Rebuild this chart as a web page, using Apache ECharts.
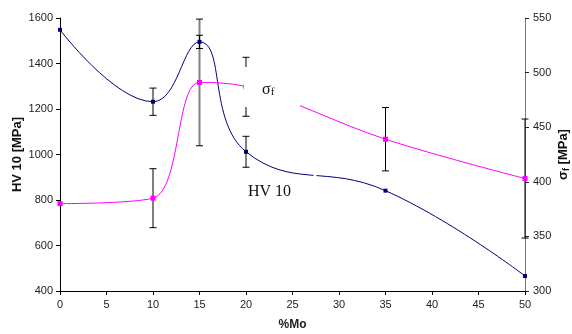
<!DOCTYPE html>
<html>
<head>
<meta charset="utf-8">
<script src="https://cdn.jsdelivr.net/npm/echarts@6/dist/echarts.min.js"></script>
<style>html,body{margin:0;padding:0;background:#fff}#c{width:572px;height:334px}</style>
</head>
<body>
<div id="c"></div>
<script>
// Data
const moPct = [0, 10, 15, 20, 35, 50];
const hv10 = [1548, 1232, 1495, 1012, 841, 466];
const sigmaF = [380, 385, 491, 487, 439, 403];
// error bars: [x, value, half-range]
const hvErrX = [10, 15, 20];
const hvErr = [60, 29, 68];
const sfErrX = [10, 15, 20, 35, 50];
const sfErr = [27, 58, 27, 29, 54.5];
const xTicks = {min: 0, max: 50, step: 5};
const leftTicks = {min: 400, max: 1600, step: 200};
const rightTicks = {min: 300, max: 550, step: 50};

const hvData = moPct.map((x, i) => [x, hv10[i]]);
const sfData = moPct.map((x, i) => [x, sigmaF[i]]);
const hvErrData = hvErrX.map((x, i) => [x, hv10[moPct.indexOf(x)] - hvErr[i], hv10[moPct.indexOf(x)] + hvErr[i]]);
const sfErrData = sfErrX.map((x, i) => [x, sigmaF[moPct.indexOf(x)] - sfErr[i], sigmaF[moPct.indexOf(x)] + sfErr[i]]);

function errRender(color, widthFn) {
  return function (params, api) {
    const x = api.value(0);
    const lo = api.coord([x, api.value(1)]);
    const hi = api.coord([x, api.value(2)]);
    const w = 3.5;
    const lw = widthFn(x);
    return {
      type: 'group',
      children: [
        {type: 'line', shape: {x1: lo[0], y1: lo[1], x2: hi[0], y2: hi[1]}, style: {stroke: lw > 1 ? '#808080' : color, lineWidth: lw}},
        {type: 'line', shape: {x1: lo[0] - w, y1: lo[1], x2: lo[0] + w, y2: lo[1]}, style: {stroke: color, lineWidth: 1}},
        {type: 'line', shape: {x1: hi[0] - w, y1: hi[1], x2: hi[0] + w, y2: hi[1]}, style: {stroke: color, lineWidth: 1}}
      ]
    };
  };
}

const chart = echarts.init(document.getElementById('c'), null, {renderer: 'canvas'});
const axisFont = {fontFamily: 'Liberation Sans, Arial, sans-serif', fontSize: 11, color: '#222', formatter: v => String(v)};
chart.setOption({
  animation: false,
  backgroundColor: '#fff',
  grid: {left: 60, right: 47, top: 18, bottom: 43, containLabel: false, outerBoundsMode: 'none'},
  xAxis: {
    type: 'value', min: xTicks.min, max: xTicks.max, interval: xTicks.step,
    name: '%Mo', nameLocation: 'middle', nameGap: 28, nameMoveOverlap: false,
    nameTextStyle: {fontFamily: 'Liberation Sans, Arial, sans-serif', fontSize: 12, fontWeight: 'bold', color: '#222'},
    axisLine: {lineStyle: {color: '#000', width: 1}},
    axisTick: {inside: false, length: 4, lineStyle: {color: '#000'}},
    axisLabel: Object.assign({margin: 8}, axisFont),
    splitLine: {show: false}
  },
  yAxis: [{
    type: 'value', min: leftTicks.min, max: leftTicks.max, interval: leftTicks.step, position: 'left',
    name: 'HV 10 [MPa]', nameLocation: 'middle', nameGap: 36, nameRotate: 90, nameMoveOverlap: false,
    nameTextStyle: {fontFamily: 'Liberation Sans, Arial, sans-serif', fontSize: 13, fontWeight: 'bold', color: '#111'},
    axisLine: {show: true, lineStyle: {color: '#000'}},
    axisTick: {show: true, length: 4, lineStyle: {color: '#000'}},
    axisLabel: Object.assign({margin: 7}, axisFont),
    splitLine: {show: false}
  }, {
    type: 'value', min: rightTicks.min, max: rightTicks.max, interval: rightTicks.step, position: 'right',
    name: 'σ{sub|f} [MPa]', nameLocation: 'middle', nameGap: 31, nameRotate: 90, nameMoveOverlap: false,
    nameTextStyle: {fontFamily: 'Liberation Sans, Arial, sans-serif', fontSize: 13, fontWeight: 'bold', color: '#111',
      rich: {sub: {fontSize: 9, fontWeight: 'bold', verticalAlign: 'bottom', padding: [6, 0, 0, 0], fontFamily: 'Liberation Sans, Arial, sans-serif'}}},
    axisLine: {show: true, lineStyle: {color: '#777'}},
    axisTick: {show: true, length: 4, lineStyle: {color: '#222'}},
    axisLabel: Object.assign({margin: 8}, axisFont),
    splitLine: {show: false}
  }],
  series: [{
    type: 'line', name: 'HV 10', yAxisIndex: 0, data: hvData, smooth: 0.45,
    lineStyle: {color: '#000080', width: 1}, itemStyle: {color: '#000080'},
    symbol: 'rect', symbolSize: 4, z: 3
  }, {
    type: 'line', name: 'sigma f', yAxisIndex: 1, data: sfData, smooth: 0.35,
    lineStyle: {color: '#ff00ff', width: 1}, itemStyle: {color: '#ff00ff'},
    symbol: 'rect', symbolSize: 5, z: 3
  }, {
    type: 'custom', yAxisIndex: 1, data: sfErrData, z: 2,
    renderItem: errRender('#000', x => x === 15 ? 2 : 1)
  }, {
    type: 'custom', yAxisIndex: 0, data: hvErrData, z: 4,
    renderItem: errRender('#000', x => 1)
  }],
  graphic: [
    {type: 'rect', shape: {x: 244, y: 67, width: 56, height: 40}, style: {fill: '#fff'}, z: 100},
    {type: 'rect', shape: {x: 313.5, y: 169, width: 3, height: 8}, style: {fill: '#fff'}, z: 100},
    {type: 'text', x: 262, y: 82, z: 101, style: {
      text: 'σ{s|f}', fill: '#111', font: '16px "Liberation Serif", "Times New Roman", serif',
      rich: {s: {fontSize: 11, fontFamily: 'Liberation Serif', verticalAlign: 'bottom', padding: [5, 0, 0, 0], fill: '#111'}}
    }},
    {type: 'text', x: 248, y: 184, z: 101, style: {
      text: 'HV 10', fill: '#111', font: '16px "Liberation Serif", "Times New Roman", serif'
    }}
  ]
});
</script>
</body>
</html>
